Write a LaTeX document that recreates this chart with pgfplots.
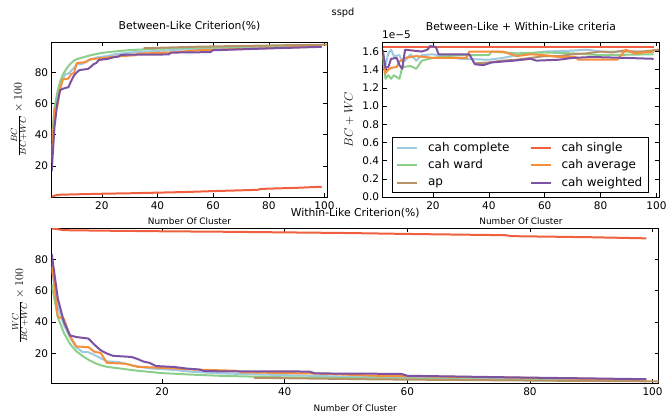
\documentclass[border=0pt]{standalone}
\usepackage[no-math]{fontspec}
\setmainfont{DejaVu Sans}
\usepackage{pgfplots}
\pgfplotsset{compat=1.18}

\definecolor{colcomplete}{RGB}{158,202,225}
\definecolor{colward}{RGB}{140,207,138}
\definecolor{colap}{RGB}{183,146,104}
\definecolor{colsingle}{RGB}{240,96,62}
\definecolor{colaverage}{RGB}{246,142,58}
\definecolor{colweighted}{RGB}{124,83,163}

\pgfplotsset{
  sspd/.style={
    scale only axis, anchor=north west,
    xmin=2, xmax=101,
    xtick={20,40,60,80,100},
    tick align=inside,
    axis line style={line width=0.8pt},
    major tick style={line width=0.6pt, black},
    major tick length=4pt,
    /pgf/number format/assume math mode=true,
    tick label style={font=\fontsize{10.5}{12}\selectfont},
    xticklabel style={yshift=-0.8pt},
    title style={font=\fontsize{10.8}{13}\selectfont, at={(0.5,1)}, anchor=south, inner sep=0pt, yshift=4.7pt},
    xlabel style={font=\fontsize{8.9}{10}\selectfont, at={(axis description cs:0.5,0)}, anchor=north, inner sep=0pt, yshift=-20.5pt},
    every axis plot/.append style={line width=2pt, no markers, line join=round},
    xlabel={Number Of Cluster},
  }
}

\begin{document}
\begin{tikzpicture}
\useasboundingbox (0pt,0pt) rectangle (667pt,-417pt);

\node[font=\fontsize{9.8}{12}\selectfont] at (343pt,-12.5pt) {sspd};
\node[font=\fontsize{10.5}{12}\selectfont, anchor=base west, inner sep=0pt] at (382pt,-38.5pt) {1e−5};

% between-like criterion
\begin{axis}[sspd,
  at={(51.7pt,-42pt)}, width=275.6pt, height=155pt,
  ymin=0, ymax=99.5, ytick={20,40,60,80},
  title={Between-Like Criterion(\%)},
  ylabel={$\frac{BC}{BC+WC}\times 100$},
  ylabel style={at={(axis description cs:-0.119,0.5)}, anchor=center, font=\fontsize{13}{15}\selectfont},
]
\addplot[colcomplete] coordinates {(2,25)(3,50)(4,62)(5,70)(6,76)(7,79)(8,79.2)(9,81)(10,83)(11,85)(13,85.5)(15,87.5)(18,89.5)(22,90.5)(25,91.7)(30,92.7)(35,93.3)(40,93.8)(45,94.3)(50,94.8)(60,95.4)(70,96)(80,96.5)(90,96.9)(99,97.2)};
\addplot[colward] coordinates {(2,36)(3,57)(4,67)(5,74)(6,78.5)(7,81.5)(8,84)(9,86)(10,87.5)(11,88.5)(13,89.5)(16,91)(20,92.5)(25,93.5)(30,94.3)(40,95.2)(50,95.7)(60,96.1)(70,96.5)(80,97)(99,97.5)};
\addplot[colap] coordinates {(35,95.5)(45,96)(55,96.5)(65,96.8)(75,97.1)(85,97.4)(95,97.6)(101,97.8)};
\addplot[colsingle] coordinates {(2,0.3)(3,0.8)(4,1.4)(10,1.7)(20,2.1)(30,2.4)(40,2.8)(50,3.2)(60,3.8)(70,4.3)(76,4.6)(77,5.2)(90,5.9)(99,6.6)};
\addplot[colaverage] coordinates {(2,22)(3,56.6)(4,58)(5,69)(6,75.5)(8,76)(9,79)(10,79.6)(11,86)(14,86.5)(16,88.5)(19,89)(22,89.5)(25,90.2)(32,91)(33,92)(45,92.8)(55,94.2)(60,94.5)(70,95)(80,95.5)(90,96.2)(99,96.5)};
\addplot[colweighted] coordinates {(2,16.5)(3,45)(4,60)(5,68.5)(6,69.5)(8,70.5)(9,74.5)(10,78)(11,80)(12,81.5)(15,82.2)(16,83.5)(17,85.2)(18,86)(19,88)(22,88.6)(24,89.6)(26,90.2)(27,91.3)(44,91.5)(45,92.7)(59,93)(60,94.2)(70,94.8)(80,95.4)(90,95.9)(99,96.4)};
\end{axis}

% between + within
\begin{axis}[sspd,
  at={(382.7pt,-42pt)}, width=276.6pt, height=155pt,
  ymin=0, ymax=1.705, ytick={0,0.2,0.4,0.6,0.8,1.0,1.2,1.4,1.6},
  yticklabel style={/pgf/number format/.cd, fixed, fixed zerofill, precision=1},
  title={Between-Like + Within-Like criteria},
  ylabel={$BC+WC$},
  ylabel style={at={(axis description cs:-0.122,0.5)}, anchor=center, font=\fontsize{11.5}{13}\selectfont},
  legend columns=3, transpose legend,
  legend cell align=left,
  legend image code/.code={\draw[#1, line width=2pt] (0pt,0pt) -- (20pt,0pt);},
  legend style={at={(0.0325,0.026)}, anchor=south west, draw=black, line width=0.8pt, fill=white,
    font=\fontsize{12}{14}\selectfont, inner xsep=4pt, inner ysep=2.5pt, row sep=3pt,
    nodes={inner sep=2pt},
    /tikz/every odd column/.append style={column sep=8pt},
    /tikz/every even column/.append style={column sep=18pt}},
]
\addplot[colcomplete] coordinates {(2,1.56)(3,1.45)(4,1.58)(5,1.62)(6,1.55)(8,1.56)(9,1.49)(10,1.5)(12,1.57)(14,1.5)(16,1.56)(20,1.57)(25,1.54)(30,1.52)(40,1.51)(45,1.53)(50,1.56)(60,1.6)(70,1.61)(75,1.62)(80,1.6)(90,1.6)(99,1.6)};
\addplot[colward] coordinates {(2,1.55)(3,1.3)(4,1.34)(5,1.3)(6,1.34)(8,1.3)(9,1.43)(12,1.44)(14,1.41)(16,1.5)(20,1.53)(25,1.55)(30,1.56)(40,1.56)(41,1.6)(50,1.58)(60,1.59)(70,1.58)(80,1.56)(99,1.57)};
\addplot[colap] coordinates {(35,1.47)(40,1.48)(45,1.5)(50,1.51)(55,1.53)(60,1.55)(65,1.55)(70,1.57)(75,1.58)(80,1.6)(84,1.59)(88,1.61)(92,1.6)(95,1.6)(101,1.62)};
\addplot[colsingle] coordinates {(2,1.645)(50,1.645)(99,1.645)};
\addplot[colaverage] coordinates {(2,1.6)(3,1.36)(4,1.4)(5,1.42)(7,1.43)(8,1.49)(10,1.53)(14,1.55)(20,1.53)(32,1.53)(33,1.6)(45,1.6)(50,1.55)(55,1.57)(60,1.56)(65,1.54)(71,1.54)(72,1.51)(86,1.51)(89,1.62)(92,1.58)(99,1.6)};
\addplot[colweighted] coordinates {(2,1.62)(3,1.42)(4,1.43)(5,1.52)(7,1.53)(8,1.45)(9,1.41)(10,1.62)(16,1.6)(18,1.62)(19,1.66)(21,1.65)(22,1.57)(33,1.57)(35,1.46)(38,1.45)(41,1.48)(49,1.5)(55,1.52)(57,1.5)(65,1.51)(70,1.53)(77,1.54)(89,1.53)(99,1.52)};
\legend{cah complete, cah ward, ap, cah single, cah average, cah weighted}
\end{axis}

% within-like criterion
\begin{axis}[sspd,
  at={(51.7pt,-228.3pt)}, width=607pt, height=155pt,
  ymin=1, ymax=99.8, ytick={20,40,60,80},
  title={Within-Like Criterion(\%)},
  title style={yshift=-0.3pt},
  xlabel style={yshift=-0.5pt},
  ylabel={$\frac{WC}{BC+WC}\times 100$},
  ylabel style={at={(axis description cs:-0.052,0.5)}, anchor=center, font=\fontsize{13}{15}\selectfont},
]
\addplot[colcomplete] coordinates {(2,75)(3,50)(4,38)(5,30)(6,24)(7,21)(8,20.8)(9,19)(10,17)(11,15)(13,14.5)(15,12.5)(18,10.5)(22,9.5)(25,8.3)(30,7.3)(35,6.7)(40,6.2)(45,5.7)(50,5.2)(60,4.6)(70,4)(80,3.5)(90,3.1)(99,2.8)};
\addplot[colward] coordinates {(2,64)(3,43)(4,33)(5,26)(6,21.5)(7,18.5)(8,16)(9,14)(10,12.5)(11,11.5)(13,10.5)(16,9)(20,7.5)(25,6.5)(30,5.7)(40,4.8)(50,4.3)(60,3.9)(70,3.5)(80,3)(99,2.5)};
\addplot[colap] coordinates {(35,4.5)(45,4)(55,3.5)(65,3.2)(75,2.9)(85,2.6)(95,2.4)(101,2.2)};
\addplot[colsingle] coordinates {(2,99.7)(3,99.2)(4,98.6)(10,98.3)(20,97.9)(30,97.6)(40,97.2)(50,96.8)(60,96.2)(70,95.7)(76,95.4)(77,94.8)(90,94.1)(99,93.4)};
\addplot[colaverage] coordinates {(2,78)(3,43.4)(4,42)(5,31)(6,24.5)(8,24)(9,21)(10,20.4)(11,14)(14,13.5)(16,11.5)(19,11)(22,10.5)(25,9.8)(32,9)(33,8)(45,7.2)(55,5.8)(60,5.5)(70,5)(80,4.5)(90,3.8)(99,3.5)};
\addplot[colweighted] coordinates {(2,83.5)(3,55)(4,40)(5,31.5)(6,30.5)(8,29.5)(9,25.5)(10,22)(11,20)(12,18.5)(15,17.8)(16,16.5)(17,14.8)(18,14)(19,12)(22,11.4)(24,10.4)(26,9.8)(27,8.7)(44,8.5)(45,7.3)(59,7)(60,5.8)(70,5.2)(80,4.6)(90,4.1)(99,3.6)};
\end{axis}
\end{tikzpicture}
\end{document}
